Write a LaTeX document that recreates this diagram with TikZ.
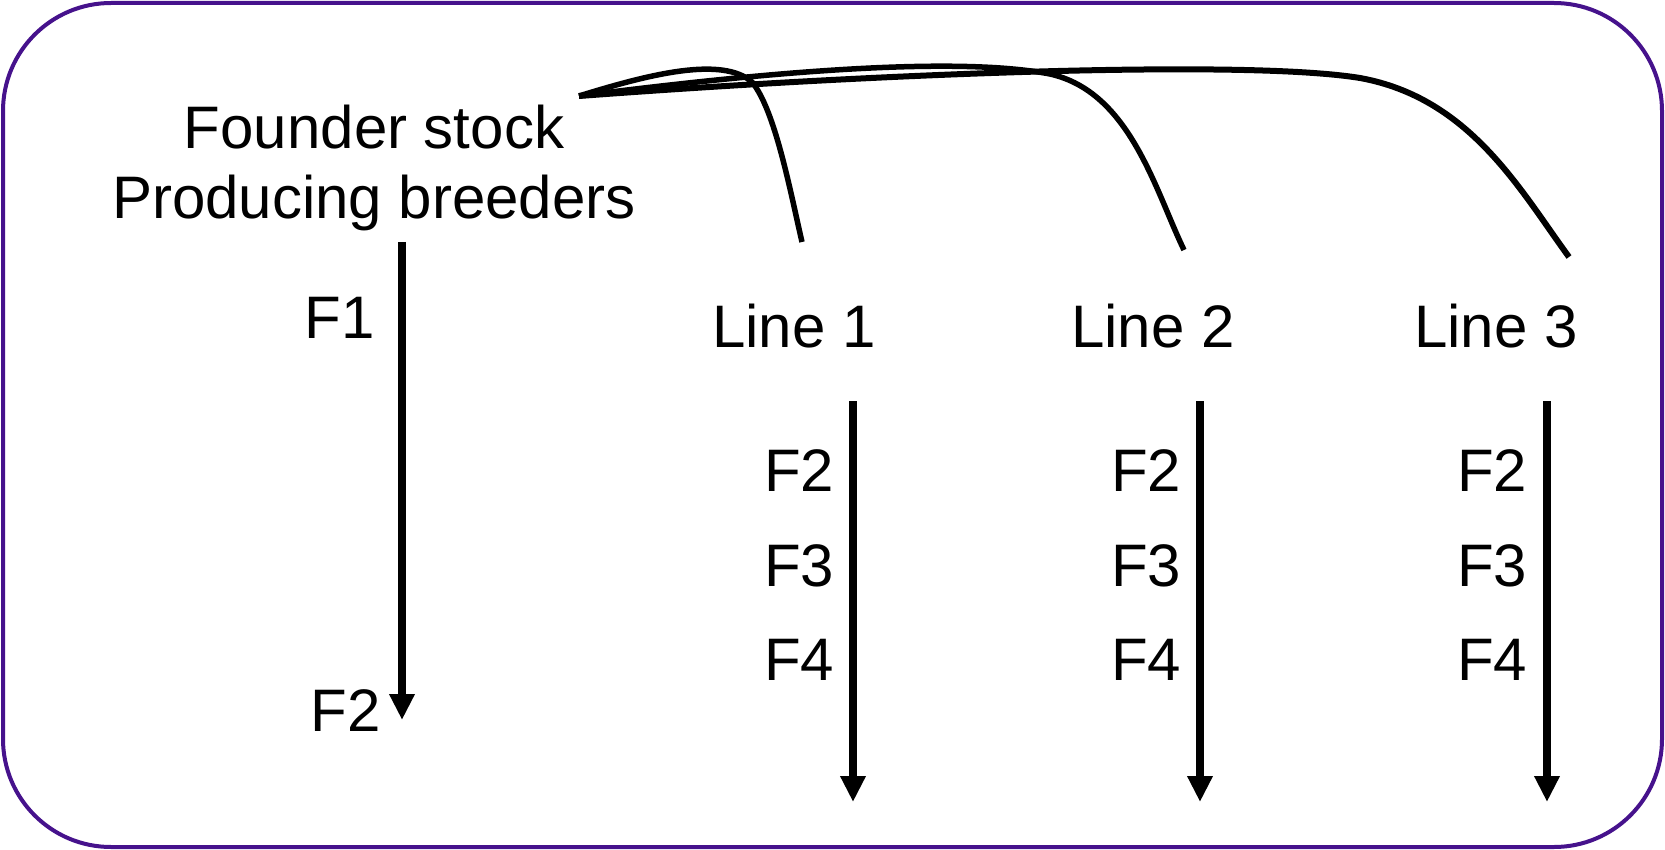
\documentclass[tikz,border=0pt]{standalone}
\usepackage{fontspec}
\setmainfont{Liberation Sans}
\usetikzlibrary{arrows.meta}
\definecolor{frame}{RGB}{70,18,140}
\tikzset{
  lbl/.style={anchor=base,inner sep=0pt,font=\fontsize{60}{72}\selectfont},
  flow/.style={line width=7.5pt,-{Triangle[width=24pt,length=26pt]}},
  branch/.style={line width=5.5pt}
}
\begin{document}
\begin{tikzpicture}[x=1pt,y=-1pt]
\useasboundingbox (0,0) rectangle (1665,850);
\draw[frame,line width=4pt,rounded corners=108pt] (3,3) rectangle (1662,847);
% texts
\node[lbl] (founder) at (374,149) {Founder stock};
\node[lbl] (breed) at (374,219) {Producing breeders};
\node[lbl] (f1) at (340,338) {F1};
\node[lbl] (f2l) at (346,731) {F2};
\node[lbl] (l1) at (794,347) {Line 1};
\node[lbl] (l2) at (1153,347) {Line 2};
\node[lbl] (l3) at (1496,347) {Line 3};
\foreach \n/\x in {a/799,b/1146,c/1492}{
  \node[lbl] (\n2) at (\x,491) {F2};
  \node[lbl] (\n3) at (\x,586) {F3};
  \node[lbl] (\n4) at (\x,680) {F4};
}
% coordinates
\coordinate (src) at (579,96);
\coordinate (e1) at (802,242);
\coordinate (e2) at (1184,250);
\coordinate (e3) at (1569,257);
\coordinate (ls) at (402,242);
\coordinate (le) at (402,720);
\coordinate (a1s) at (853,401);
\coordinate (a1e) at (853,802);
\coordinate (a2s) at (1200,401);
\coordinate (a2e) at (1200,802);
\coordinate (a3s) at (1547,401);
\coordinate (a3e) at (1547,802);
% branch curves
\draw[branch] (src) .. controls (650,74) and (722,56) .. (752,82) .. controls (775,110) and (790,190) .. (e1);
\draw[branch] (src) .. controls (750,74) and (950,55) .. (1050,74) .. controls (1130,92) and (1155,190) .. (e2);
\draw[branch,line width=6pt] (src) .. controls (900,72) and (1250,60) .. (1360,78) .. controls (1470,98) and (1520,190) .. (e3);
% arrows
\draw[flow] (ls) -- (le);
\draw[flow] (a1s) -- (a1e);
\draw[flow] (a2s) -- (a2e);
\draw[flow] (a3s) -- (a3e);
\end{tikzpicture}
\end{document}
